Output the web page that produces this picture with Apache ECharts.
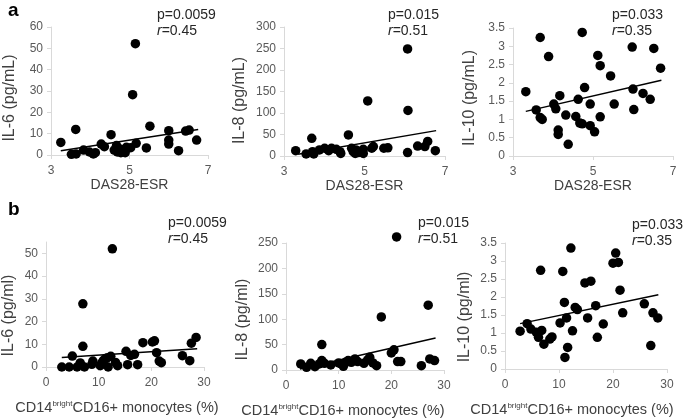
<!DOCTYPE html>
<html><head><meta charset="utf-8">
<script src="https://cdn.jsdelivr.net/npm/echarts@6/dist/echarts.min.js"></script>
<style>html,body{margin:0;padding:0;background:#fff}#c{width:685px;height:420px}</style>
</head><body><div id="c"></div>
<script>
// ---- Data ----
// a: DAS28-ESR vs IL-6
const das_il6_x = [3.25,3.52,3.64,3.63,3.83,3.98,4.08,4.13,4.28,4.36,4.53,4.61,4.67,4.69,4.73,4.78,4.83,4.92,4.89,5.03,5.08,5.15,5.17,5.43,5.52,6.0,6.0,6.0,6.25,6.43,6.52,6.71];
const das_il6_y = [5.9,0.3,0.5,12.0,2.3,1.4,0.5,1.1,5.1,3.9,9.5,2.3,4.4,1.4,3.1,1.1,2.3,3.6,1.1,3.4,28.3,52.2,5.5,3.3,13.5,11.4,7.0,5.1,2.0,11.2,11.7,7.0];
const das_il6_trend = [[3.25,2.0],[6.75,12.0]];
// a: DAS28-ESR vs IL-8
const das_il8_x = [3.29,3.55,3.69,3.71,3.74,3.88,4.01,4.11,4.18,4.3,4.39,4.41,4.6,4.68,4.72,4.77,4.79,4.85,4.97,4.97,5.08,5.18,5.22,5.48,5.58,6.07,6.07,6.08,6.32,6.5,6.57,6.76];
const das_il8_y = [12.4,4.7,41,10,4.7,14,18,12.4,18,15.5,10,6,49,18,10,6,14,8,15.5,6,128,18,22,18,19,8,249,106,23,22,34,12.4];
const das_il8_trend = [[3.35,4],[6.78,59]];
// a: DAS28-ESR vs IL-10
const das_il10_x = [3.32,3.58,3.68,3.68,3.73,3.89,4.02,4.07,4.13,4.13,4.17,4.32,4.38,4.57,4.63,4.67,4.73,4.73,4.79,4.93,4.93,5.04,5.12,5.18,5.18,5.44,5.53,5.98,6.0,6.02,6.25,6.43,6.52,6.69];
const das_il10_y = [1.76,1.26,3.24,1.05,1.0,2.72,1.42,1.29,0.71,0.59,1.65,1.12,0.32,1.08,1.55,0.9,0.88,3.38,1.87,1.42,0.83,0.66,2.75,2.47,1.07,2.19,1.42,2.98,1.83,1.27,1.71,1.55,2.94,2.4];
const das_il10_trend = [[3.32,1.22],[6.71,2.07]];
// b: CD14brightCD16+ monocytes (%) vs IL-6
const mono_il6_x = [3.0,4.4,5.0,5.9,6.5,7.0,7.0,7.3,8.7,8.9,10.3,10.6,10.9,11.3,11.7,11.8,12.3,12.6,13.2,13.6,15.2,15.5,16.1,16.8,17.4,18.4,20.2,20.6,21.0,21.5,21.9,25.9,27.3,27.6,28.5];
const mono_il6_y = [0,0,4.8,0,1.8,27.8,9.1,0,1.2,2.6,0.6,1.8,2.9,3.7,4.1,0,4.7,52,2.0,0.6,6.9,1.0,5.1,5.6,1.0,10.7,11.0,11.5,6.3,2.6,1.9,5.0,2.8,10.5,13.0];
const mono_il6_trend = [[3.0,4.2],[28.7,8.0]];
// b: CD14brightCD16+ monocytes (%) vs IL-8
const mono_il8_x = [2.8,3.9,4.7,5.5,6.3,6.8,6.8,7.3,8.5,10.0,10.5,10.9,11.3,11.8,12.4,13.1,13.6,14.8,15.5,15.9,16.5,17.2,18.1,20.0,20.5,21.0,21.2,21.8,25.7,27.0,27.3,28.2];
const mono_il8_y = [11.9,5.3,13.2,6.6,11.9,18.5,50,13.2,9.9,13.9,11.9,7.3,15.2,18.5,15.2,21.8,16.5,13.2,19.8,25.1,13.9,8.6,104.5,33.7,39.7,262,16.5,16.5,8.6,127.6,21.8,18.5];
const mono_il8_trend = [[2.65,2],[28.4,62.8]];
// b: CD14brightCD16+ monocytes (%) vs IL-10
const mono_il10_x = [2.8,4.1,4.8,5.8,6.2,6.6,6.8,7.2,8.3,8.7,10.2,10.7,11.0,11.1,11.4,11.6,12.2,12.5,13.0,13.4,14.8,15.3,15.9,16.8,17.1,18.2,20.0,20.5,21.0,21.3,21.8,25.8,27.0,27.4,28.3];
const mono_il10_y = [1.05,1.26,1.11,1.02,0.88,2.74,1.07,0.69,0.83,0.89,1.28,2.71,1.85,0.32,1.42,0.6,3.36,1.06,1.71,1.65,2.39,1.42,2.44,1.76,0.88,1.25,2.94,3.22,2.96,2.19,1.56,1.81,0.65,1.56,1.42];
const mono_il10_trend = [[2.8,1.26],[28.4,2.06]];

const pValues = ['p=0.0059','p=0.015','p=0.033','p=0.0059','p=0.015','p=0.033'];
const rValues = ['0.45','0.51','0.35','0.45','0.51','0.35'];
const yTitles = ['IL-6 (pg/mL)','IL-8 (pg/mL)','IL-10 (pg/mL)','IL-6 (pg/ml)','IL-8 (pg/ml)','IL-10 (pg/ml)'];
const xTitleTop = 'DAS28-ESR';
const xTitleBottom = 'CD14{sup|bright}CD16+ monocytes (%)';

// ---- Layout ----
const FONT = '"Liberation Sans", Arial, Helvetica, sans-serif';
const panels = [
  {x: das_il6_x, y: das_il6_y, t: das_il6_trend, grid:{left:51,top:27,width:157,height:128}, xr:[3,7,2], yr:[0,60,10], yGap:33, yPad:14, pt:[157,8], row:0},
  {x: das_il8_x, y: das_il8_y, t: das_il8_trend, grid:{left:284,top:27,width:161,height:129}, xr:[3,7,2], yr:[0,300,50], yGap:36, yPad:18, pt:[388,8], row:0},
  {x: das_il10_x, y: das_il10_y, t: das_il10_trend, grid:{left:513,top:28,width:160,height:128}, xr:[3,7,2], yr:[0,3.5,0.5], yGap:35, yPad:12, pt:[612,8], row:0},
  {x: mono_il6_x, y: mono_il6_y, t: mono_il6_trend, grid:{left:42,top:242,width:162,height:125}, xr:[0,30,10], yr:[0,55,10], yShow:[0,10,20,30,40,50], yGap:29, yPad:22, pt:[168,216], row:1, xPad:16},
  {x: mono_il8_x, y: mono_il8_y, t: mono_il8_trend, grid:{left:286,top:243,width:158,height:127}, xr:[0,30,10], yr:[0,250,50], yGap:35, yPad:26, pt:[418,216], row:1, xPad:44},
  {x: mono_il10_x, y: mono_il10_y, t: mono_il10_trend, grid:{left:505,top:243,width:162,height:126}, xr:[0,30,10], yr:[0,3.5,0.5], yGap:32, yPad:22, pt:[632,218], row:1, xPad:28}
];

const axisLineC = '#d9d9d9';
const labelC = '#595959';
const titleC = '#404040';

const option = {animation:false, backgroundColor:'#fff', grid:[], xAxis:[], yAxis:[], series:[], graphic:[]};
panels.forEach((p,i)=>{
  option.grid.push(Object.assign({containLabel:false}, p.grid));
  option.xAxis.push({
    type:'value', gridIndex:i, min:p.xr[0], max:p.xr[1], interval:p.xr[2],
    name: p.row===0 ? xTitleTop : xTitleBottom,
    nameLocation:'middle', nameGap: p.row===0 ? 22 : 33,
    nameTextStyle: {fontFamily:FONT, fontSize: p.row===0 ? 14 : 14.5, color:titleC, padding: p.xPad ? [0,p.xPad,0,0] : 0,
      rich: {sup:{fontFamily:FONT, fontSize:8, color:titleC, padding:[0,0,7,0]}}},
    axisLine:{show:true, onZero:false, lineStyle:{color:axisLineC, width:1}},
    axisTick:{show:true, length:4, lineStyle:{color:axisLineC}},
    axisLabel:{fontFamily:FONT, fontSize:12, color:labelC, margin:10},
    splitLine:{show:false}
  });
  const ya = {
    type:'value', gridIndex:i, min:p.yr[0], max:p.yr[1], interval:p.yr[2],
    name: yTitles[i], nameLocation:'middle', nameGap:p.yGap,
    nameTextStyle:{fontFamily:FONT, fontSize:16, color:titleC, padding:[0,p.yPad,0,0]},
    axisLine:{show:true, onZero:false, lineStyle:{color:axisLineC, width:1}},
    axisTick:{show:true, length:4, lineStyle:{color:axisLineC}},
    axisLabel:{fontFamily:FONT, fontSize:12, color:labelC, margin:8},
    splitLine:{show:false}
  };
  if (p.yShow) { ya.axisLabel.customValues = p.yShow; ya.axisTick.customValues = p.yShow; }
  option.yAxis.push(ya);
  option.series.push({
    type:'scatter', xAxisIndex:i, yAxisIndex:i, clip:false,
    data: p.x.map((v,k)=>[v, p.y[k]]),
    symbol:'circle', symbolSize:9.5, itemStyle:{color:'#000', opacity:1}, z:3
  });
  option.series.push({
    type:'line', xAxisIndex:i, yAxisIndex:i, data:p.t, symbol:'none',
    lineStyle:{color:'#000', width:1.5}, z:2
  });
  option.graphic.push({type:'text', left:p.pt[0], top:p.pt[1],
    style:{text:pValues[i], font:'14px '+FONT, fill:'#262626'}});
  option.graphic.push({type:'text', left:p.pt[0], top:p.pt[1]+16,
    style:{text:'{i|r}='+rValues[i], font:'14px '+FONT, fill:'#262626',
      rich:{i:{fontStyle:'italic', fontFamily:FONT, fontSize:14, fill:'#262626'}}}});
});
option.graphic.push({type:'text', left:8, top:1, style:{text:'a', font:'bold 19px '+FONT, fill:'#000'}});
option.graphic.push({type:'text', left:8, top:200, style:{text:'b', font:'bold 19px '+FONT, fill:'#000'}});

const chart = echarts.init(document.getElementById('c'), null, {renderer:'canvas'});
chart.setOption(option);
</script></body></html>
